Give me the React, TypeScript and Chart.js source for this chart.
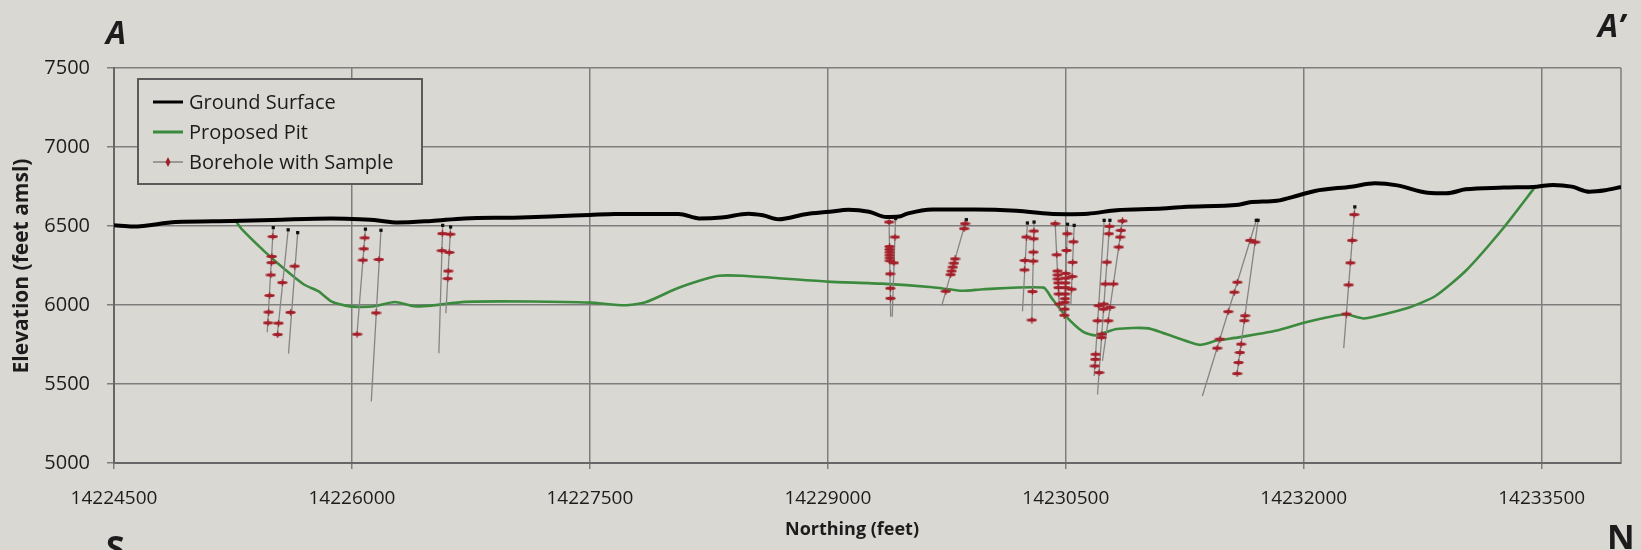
import React, { useEffect, useRef } from "react";
import { Chart, registerables } from "chart.js";

Chart.register(...registerables);

// ---------------- data ----------------
const X_TICKS = [14224500, 14226000, 14227500, 14229000, 14230500, 14232000, 14233500];
const Y_TICKS = [5000, 5500, 6000, 6500, 7000, 7500];
const X_MIN = 14224500;
const X_MAX = 14234000;
const Y_MIN = 5000;
const Y_MAX = 7500;

const GROUND_N = [
  14224500, 14224620, 14224890, 14225240, 14225500, 14225870, 14226000, 14226140, 14226290, 14226500,
  14226710, 14227020, 14227250, 14227500, 14227660, 14228060, 14228190, 14228330, 14228500, 14228590,
  14228690, 14228860, 14229010, 14229130, 14229260, 14229370, 14229450, 14229500, 14229660, 14229930,
  14230190, 14230400, 14230500, 14230640, 14230820, 14231110, 14231240, 14231590, 14231660, 14231830,
  14231970, 14232070, 14232300, 14232450, 14232590, 14232780, 14232900, 14233020, 14233260, 14233470,
  14233570, 14233690, 14233800, 14233900, 14234000,
];
const GROUND_E = [
  6505, 6497, 6525, 6532, 6538, 6548, 6545, 6538, 6522, 6532,
  6548, 6553, 6560, 6570, 6576, 6576, 6548, 6554, 6578, 6568,
  6543, 6575, 6590, 6603, 6590, 6557, 6560, 6578, 6605, 6605,
  6596, 6577, 6575, 6578, 6600, 6610, 6621, 6635, 6650, 6660,
  6695, 6722, 6749, 6770, 6757, 6711, 6707, 6732, 6743, 6749,
  6760, 6749, 6717, 6726, 6747,
];

const PIT_N = [
  14225270, 14225310, 14225450, 14225580, 14225700, 14225790, 14225870, 14225960, 14226040, 14226140,
  14226270, 14226390, 14226500, 14226710, 14227130, 14227500, 14227720, 14227850, 14228040, 14228190,
  14228310, 14228460, 14228710, 14229000, 14229340, 14229660, 14229850, 14229980, 14230360, 14230410,
  14230500, 14230610, 14230690, 14230820, 14231020, 14231340, 14231450, 14231590, 14231830, 14232020,
  14232260, 14232380, 14232660, 14232830, 14233020, 14233260, 14233460,
];
const PIT_E = [
  6528, 6475, 6338, 6223, 6128, 6086, 6023, 5996, 5988, 5992,
  6019, 5992, 5996, 6020, 6022, 6015, 5998, 6017, 6101, 6153,
  6185, 6185, 6168, 6148, 6135, 6112, 6090, 6100, 6110, 6045,
  5930, 5830, 5808, 5848, 5852, 5748, 5775, 5795, 5838, 5892,
  5941, 5915, 5983, 6057, 6215, 6489, 6749,
];

// borehole traces: collar (top) and end (bottom)
const HOLE_TOP_N = [
  14225504, 14225598, 14225658, 14226085, 14226183, 14226572, 14226622, 14229386, 14229427, 14229873,
  14230258, 14230300, 14230433, 14230511, 14230553, 14230742, 14230778, 14230857, 14231701, 14231712,
  14232322,
];
const HOLE_TOP_E = [
  6490, 6476, 6458, 6480, 6473, 6504, 6494, 6525, 6547, 6540,
  6519, 6525, 6515, 6511, 6504, 6536, 6536, 6532, 6536, 6536,
  6621,
];
const HOLE_END_N = [
  14225466, 14225528, 14225600, 14226031, 14226122, 14226548, 14226592, 14229396, 14229406, 14229718,
  14230227, 14230286, 14230460, 14230490, 14230532, 14230679, 14230700, 14230731, 14231361, 14231579,
  14232252,
];
const HOLE_END_E = [
  5828, 5795, 5692, 5805, 5390, 5694, 5948, 5926, 5926, 5996,
  5960, 5905, 5960, 5911, 6006, 5551, 5434, 5646, 5424, 5562,
  5727,
];

// samples along the boreholes
const SAMPLE_N = [
  14225501, 14225495, 14225493, 14225489, 14225481, 14225475, 14225471,
  14225561, 14225537, 14225532,
  14225639, 14225613,
  14226081, 14226075, 14226069, 14226032,
  14226170, 14226152,
  14226570, 14226567,
  14226620, 14226613, 14226607, 14226604,
  14229386, 14229389, 14229389, 14229390, 14229390, 14229391, 14229391, 14229393, 14229394, 14229395,
  14229423, 14229416,
  14229865, 14229859, 14229802, 14229795, 14229788, 14229780, 14229774, 14229744,
  14230251, 14230242, 14230239,
  14230299, 14230298, 14230296, 14230295, 14230290, 14230286,
  14230433, 14230443, 14230448, 14230449, 14230450, 14230452, 14230454, 14230456, 14230459,
  14230509, 14230505, 14230500, 14230499, 14230498, 14230497, 14230496, 14230495, 14230494, 14230493, 14230491,
  14230548, 14230543, 14230540, 14230537,
  14230707, 14230701, 14230688, 14230686, 14230683,
  14230775, 14230772, 14230759, 14230749, 14230740, 14230738, 14230727, 14230725, 14230710,
  14230857, 14230848, 14230842, 14230834, 14230800, 14230779, 14230767,
  14231662, 14231581, 14231562, 14231524, 14231471, 14231454,
  14231693, 14231630, 14231625, 14231605, 14231598, 14231589, 14231580,
  14232318, 14232305, 14232294, 14232283, 14232269,
];
const SAMPLE_E = [
  6433, 6307, 6268, 6190, 6060, 5955, 5887,
  6142, 5885, 5813,
  6246, 5953,
  6425, 6356, 6284, 5815,
  6288, 5950,
  6452, 6344,
  6448, 6333, 6215, 6167,
  6525, 6370, 6352, 6334, 6316, 6298, 6280, 6197, 6106, 6042,
  6430, 6267,
  6515, 6483, 6292, 6265, 6240, 6215, 6192, 6087,
  6430, 6282, 6222,
  6468, 6419, 6335, 6278, 6085, 5905,
  6515, 6318, 6215, 6190, 6165, 6140, 6110, 6070, 6006,
  6451, 6345, 6200, 6170, 6140, 6110, 6070, 6040, 6017, 5974, 5935,
  6400, 6270, 6180, 6100,
  5996, 5900, 5688, 5656, 5614,
  6498, 6451, 6271, 6133, 6006, 5974, 5816, 5794, 5572,
  6532, 6472, 6430, 6367, 6133, 5985, 5900,
  6409, 6144, 6081, 5958, 5784, 5727,
  6398, 5932, 5901, 5752, 5699, 5636, 5566,
  6572, 6409, 6267, 6127, 5943,
];

const SERIES_NAMES = ["Ground Surface", "Proposed Pit", "Borehole with Sample"];

// ---------------- styles ----------------
const BG = "#dad8d3";
const GRID = "#7e7e7e";
const TEXT = "#1c1c1c";
const GREEN = "#3c8a3e";
const RED = "#a3202a";
const TRACE = "#858585";
const FONT = '"Open Sans", "Noto Sans", sans-serif';

export default function App() {
  const ref = useRef<HTMLCanvasElement>(null);

  useEffect(() => {
    const canvas = ref.current;
    if (!canvas) return;

    const marker = document.createElement("canvas");
    marker.width = 11;
    marker.height = 7;
    const m = marker.getContext("2d")!;
    m.fillStyle = RED;
    m.beginPath();
    m.ellipse(5.5, 3.5, 5.2, 1.7, 0, 0, Math.PI * 2);
    m.fill();
    m.fillRect(4.9, 0.3, 1.3, 6.4);

    const ground = GROUND_N.map((n, i) => ({ x: n, y: GROUND_E[i] }));
    const pit = PIT_N.map((n, i) => ({ x: n, y: PIT_E[i] }));
    const traces: { x: number; y: number | null }[] = [];
    HOLE_TOP_N.forEach((n, i) => {
      traces.push({ x: n, y: HOLE_TOP_E[i] });
      traces.push({ x: HOLE_END_N[i], y: HOLE_END_E[i] });
      traces.push({ x: HOLE_END_N[i], y: null });
    });
    const collars = HOLE_TOP_N.map((n, i) => ({ x: n, y: HOLE_TOP_E[i] }));
    const samples = SAMPLE_N.map((n, i) => ({ x: n, y: SAMPLE_E[i] }));

    const bgPlugin = {
      id: "bg",
      beforeDraw(chart: any) {
        const c = chart.ctx;
        c.save();
        c.fillStyle = BG;
        c.fillRect(0, 0, chart.width, chart.height);
        c.restore();
      },
      beforeDatasetsDraw(chart: any) {
        const { ctx: c, chartArea: a } = chart;
        c.save();
        c.strokeStyle = GRID;
        c.lineWidth = 1.5;
        c.beginPath();
        c.moveTo(a.right, a.top);
        c.lineTo(a.right, a.bottom);
        c.stroke();
        c.restore();
      },
    };

    const overlayPlugin = {
      id: "overlay",
      afterDraw(chart: any) {
        const c = chart.ctx as CanvasRenderingContext2D;
        c.save();
        // legend box
        const lx = 138, ly = 79, lw = 284, lh = 105;
        c.fillStyle = BG;
        c.fillRect(lx, ly, lw, lh);
        c.strokeStyle = "#5a5a5a";
        c.lineWidth = 2;
        c.strokeRect(lx, ly, lw, lh);
        const rows = [102, 132, 162];
        c.font = `20px ${FONT}`;
        c.textBaseline = "middle";
        c.textAlign = "left";
        c.strokeStyle = "#000";
        c.lineWidth = 3;
        c.beginPath(); c.moveTo(153, rows[0]); c.lineTo(183, rows[0]); c.stroke();
        c.strokeStyle = GREEN;
        c.lineWidth = 3;
        c.beginPath(); c.moveTo(153, rows[1]); c.lineTo(183, rows[1]); c.stroke();
        c.strokeStyle = TRACE;
        c.lineWidth = 1.5;
        c.beginPath(); c.moveTo(153, rows[2]); c.lineTo(183, rows[2]); c.stroke();
        c.fillStyle = RED;
        c.beginPath();
        c.moveTo(168, rows[2] - 5);
        c.lineTo(170.5, rows[2]);
        c.lineTo(168, rows[2] + 5);
        c.lineTo(165.5, rows[2]);
        c.closePath();
        c.fill();
        c.fillStyle = TEXT;
        SERIES_NAMES.forEach((name, i) => c.fillText(name, 189, rows[i] + 1));

        // axis titles
        c.font = `bold 21px ${FONT}`;
        c.textAlign = "center";
        c.textBaseline = "middle";
        c.save();
        c.translate(22, 266);
        c.rotate(-Math.PI / 2);
        c.fillText("Elevation (feet amsl)", 0, 0);
        c.restore();
        c.font = `bold 18px ${FONT}`;
        c.fillText("Northing (feet)", 852, 530);

        // section letters
        c.textAlign = "left";
        c.textBaseline = "alphabetic";
        c.font = `italic bold 32px ${FONT}`;
        c.fillText("A", 106, 44);
        c.fillText("A\u2019", 1598, 37);
        c.font = `bold 34px ${FONT}`;
        c.fillText("S", 106, 560);
        c.fillText("N", 1607, 549);
        c.restore();
      },
    };

    const chart = new Chart(canvas, {
      type: "line",
      data: {
        datasets: [
          {
            label: SERIES_NAMES[0],
            data: ground,
            borderColor: "#000000",
            borderWidth: 4,
            pointRadius: 0,
            tension: 0.35,
            cubicInterpolationMode: "monotone",
            order: 0,
          },
          {
            label: SERIES_NAMES[2],
            data: samples,
            showLine: false,
            pointStyle: marker as any,
            pointRadius: 5,
            order: 1,
          },
          {
            label: "Collar",
            data: collars,
            showLine: false,
            pointStyle: "rect",
            pointRadius: 2.3,
            backgroundColor: "#111",
            borderColor: "#111",
            borderWidth: 0,
            order: 1,
          },
          {
            label: "Trace",
            data: traces as any,
            borderColor: TRACE,
            borderWidth: 1.3,
            pointRadius: 0,
            spanGaps: false,
            order: 2,
          },
          {
            label: SERIES_NAMES[1],
            data: pit,
            borderColor: GREEN,
            borderWidth: 2.6,
            pointRadius: 0,
            tension: 0.2,
            order: 3,
          },
        ],
      },
      options: {
        responsive: false,
        devicePixelRatio: 1,
        animation: false,
        events: [],
        layout: { padding: { left: 0, top: 68, right: 20, bottom: 0 } },
        plugins: { legend: { display: false }, tooltip: { enabled: false } },
        scales: {
          x: {
            type: "linear",
            min: X_MIN,
            max: X_MAX,
            afterBuildTicks: (s: any) => {
              s.ticks = X_TICKS.map((v) => ({ value: v }));
            },
            afterFit: (s: any) => {
              s.height = 87;
            },
            ticks: {
              autoSkip: false,
              maxRotation: 0,
              padding: 18,
              color: TEXT,
              font: { family: FONT, size: 19 },
              callback: (v: any) => String(v),
            },
            grid: { color: GRID, lineWidth: 1.5, tickLength: 6, drawTicks: true },
            border: { color: "#666", width: 2 },
          },
          y: {
            type: "linear",
            min: Y_MIN,
            max: Y_MAX,
            afterBuildTicks: (s: any) => {
              s.ticks = Y_TICKS.map((v) => ({ value: v }));
            },
            afterFit: (s: any) => {
              s.width = 114;
            },
            ticks: {
              autoSkip: false,
              padding: 17,
              color: TEXT,
              font: { family: FONT, size: 20 },
              callback: (v: any) => String(v),
            },
            grid: { color: GRID, lineWidth: 1.5, tickLength: 7, drawTicks: true },
            border: { color: "#666", width: 2 },
          },
        },
      },
      plugins: [bgPlugin, overlayPlugin],
    });

    return () => chart.destroy();
  }, []);

  return (
    <div style={{ position: "fixed", left: 0, top: 0, width: 1641, height: 550, overflow: "hidden" }}>
      <canvas ref={ref} width={1641} height={550} style={{ display: "block", width: 1641, height: 550 }} />
    </div>
  );
}
